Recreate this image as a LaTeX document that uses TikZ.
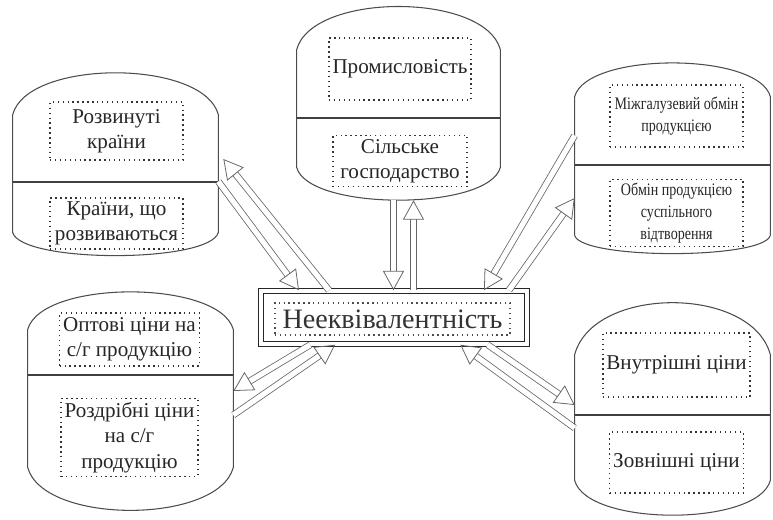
\documentclass[tikz,border=0pt]{standalone}
\usepackage{fontspec}
\setmainfont{Liberation Serif}
\usetikzlibrary{arrows.meta}

\begin{document}
\begin{tikzpicture}[
  barrel/.style={rectangle, draw=none, inner sep=0pt},
  outline/.style={draw=black!70, semithick},
  divider/.style={draw=black!75, thick},
  txtbox/.style={rectangle, draw=black!80, dotted, thick, align=center,
    inner sep=2pt, font=\fontsize{12}{14.5}\selectfont, text=black!85},
  smallbox/.style={txtbox, font=\fontsize{10}{12.5}\selectfont\addfontfeatures{FakeStretch=0.8}},
  mainbox/.style={rectangle, draw=black!85, double=white, double distance=2pt,
    line width=0.9pt, minimum width=5.32cm, minimum height=1.06cm},
  mainlbl/.style={rectangle, draw=black!70, dotted, thick, minimum width=4.7cm,
    minimum height=0.64cm, inner sep=1pt, font=\fontsize{16}{18}\selectfont, text=black!80},
  flow/.style={draw=black!60, double, double distance=3pt, line width=0.45pt,
    -{Triangle[open, length=11pt, width=12pt]}},
]
\useasboundingbox (0,0) rectangle (15.46,-10.38);

% ============================================================
% CENTRE
% ============================================================
\node[mainbox] (neq) at (7.88, -6.35) {};
\node[mainlbl] (neqlbl) at (7.85, -6.38) {Нееквівалентність};

% ============================================================
% TOP LEFT: countries
% ============================================================
\node[barrel, minimum width=4.10cm, minimum height=3.64cm] (dev) at (2.31, -3.28) {};
\draw[outline] ([yshift=-0.84cm]dev.north west) to[out=75, in=105, looseness=0.72] ([yshift=-0.84cm]dev.north east)
  -- ([yshift=0.46cm]dev.south east) to[out=-105, in=-75, looseness=0.40] ([yshift=0.46cm]dev.south west) -- cycle;
\draw[divider] (dev.west |- 0,-3.64) -- (dev.east |- 0,-3.64);
\node[txtbox, minimum width=2.66cm, minimum height=1.16cm] (devtop) at (2.33, -2.62) {Розвинуті\\країни};
\node[txtbox, minimum width=2.66cm, minimum height=0.94cm] (devbot) at (2.33, -4.47) {Країни, що\\розвиваються};

% ============================================================
% TOP CENTRE: branches
% ============================================================
\node[barrel, minimum width=4.06cm, minimum height=3.86cm] (ind) at (7.97, -2.07) {};
\draw[outline] ([yshift=-0.86cm]ind.north west) to[out=75, in=105, looseness=0.75] ([yshift=-0.86cm]ind.north east)
  -- ([yshift=0.66cm]ind.south east) to[out=-105, in=-75, looseness=0.57] ([yshift=0.66cm]ind.south west) -- cycle;
\draw[divider] (ind.west |- 0,-2.36) -- (ind.east |- 0,-2.36);
\node[txtbox, minimum width=2.68cm, minimum height=1.24cm] (indtop) at (8.0, -1.38) {Промисловість};
\node[txtbox, minimum width=2.68cm, minimum height=0.96cm] (indbot) at (8.0, -3.22) {Сільське\\господарство};

% ============================================================
% TOP RIGHT: exchange
% ============================================================
\node[barrel, minimum width=3.90cm, minimum height=3.80cm] (mix) at (13.45, -3.16) {};
\draw[outline] ([yshift=-0.68cm]mix.north west) to[out=75, in=105, looseness=0.61] ([yshift=-0.68cm]mix.north east)
  -- ([yshift=0.36cm]mix.south east) to[out=-105, in=-75, looseness=0.33] ([yshift=0.36cm]mix.south west) -- cycle;
\draw[divider] (mix.west |- 0,-3.30) -- (mix.east |- 0,-3.30);
\node[smallbox, minimum width=2.66cm, minimum height=1.24cm] (mixtop) at (13.53, -2.32) {Міжгалузевий обмін\\продукцією};
\node[smallbox, minimum width=2.66cm, minimum height=1.20cm] (mixbot) at (13.53, -4.26) {Обмін продукцією\\суспільного\\відтворення};

% ============================================================
% BOTTOM LEFT: farm prices
% ============================================================
\node[barrel, minimum width=4.10cm, minimum height=4.36cm] (prc) at (2.61, -8.02) {};
\draw[outline] ([yshift=-0.76cm]prc.north west) to[out=75, in=105, looseness=0.65] ([yshift=-0.76cm]prc.north east)
  -- ([yshift=0.86cm]prc.south east) to[out=-105, in=-75, looseness=0.74] ([yshift=0.86cm]prc.south west) -- cycle;
\draw[divider] (prc.west |- 0,-7.50) -- (prc.east |- 0,-7.50);
\node[txtbox, minimum width=2.70cm, minimum height=1.06cm] (prctop) at (2.59, -6.79) {Оптові ціни на\\с/г продукцію};
\node[txtbox, minimum width=2.70cm, minimum height=1.42cm] (prcbot) at (2.59, -8.75) {Роздрібні ціни\\на с/г\\продукцію};

% ============================================================
% BOTTOM RIGHT: home / world prices
% ============================================================
\node[barrel, minimum width=3.90cm, minimum height=4.24cm] (ext) at (13.45, -8.18) {};
\draw[outline] ([yshift=-1.04cm]ext.north west) to[out=75, in=105, looseness=0.94] ([yshift=-1.04cm]ext.north east)
  -- ([yshift=0.70cm]ext.south east) to[out=-105, in=-75, looseness=0.63] ([yshift=0.70cm]ext.south west) -- cycle;
\draw[divider] (ext.west |- 0,-8.30) -- (ext.east |- 0,-8.30);
\node[txtbox, minimum width=2.66cm, minimum height=1.28cm] (exttop) at (13.53, -7.30) {Внутрішні ціни};
\node[txtbox, minimum width=2.66cm, minimum height=1.22cm] (extbot) at (13.53, -9.25) {Зовнішні ціни};

% ============================================================
% Two-way arrows
% ============================================================
\draw[flow] ([yshift=-0.35cm]dev.east) -- ([xshift=-1.9cm]neq.north);
\draw[flow] ([xshift=-1.3cm]neq.north) -- ([xshift=0.1cm, yshift=0.1cm]dev.east);

\draw[flow] ([xshift=-0.1cm]ind.south) -- ([xshift=-0.1cm]ind.south |- neq.north);
\draw[flow] ([xshift=0.3cm]ind.south |- neq.north) -- ([xshift=0.3cm]ind.south);

\draw[flow] ([yshift=0.45cm]mix.west) -- ([xshift=1.8cm]neq.north);
\draw[flow] ([xshift=2.3cm]neq.north) -- ([yshift=-0.8cm]mix.west);

\draw[flow] ([xshift=1.0cm]neq.south west) -- ([yshift=0.2cm]prc.east);
\draw[flow] ([yshift=-0.28cm]prc.east) -- ([xshift=1.5cm]neq.south west);

\draw[flow] ([xshift=-0.8cm]neq.south east) -- ([yshift=0.08cm]ext.west);
\draw[flow] ([yshift=-0.38cm]ext.west) -- ([xshift=-1.35cm]neq.south east);

\end{tikzpicture}
\end{document}
